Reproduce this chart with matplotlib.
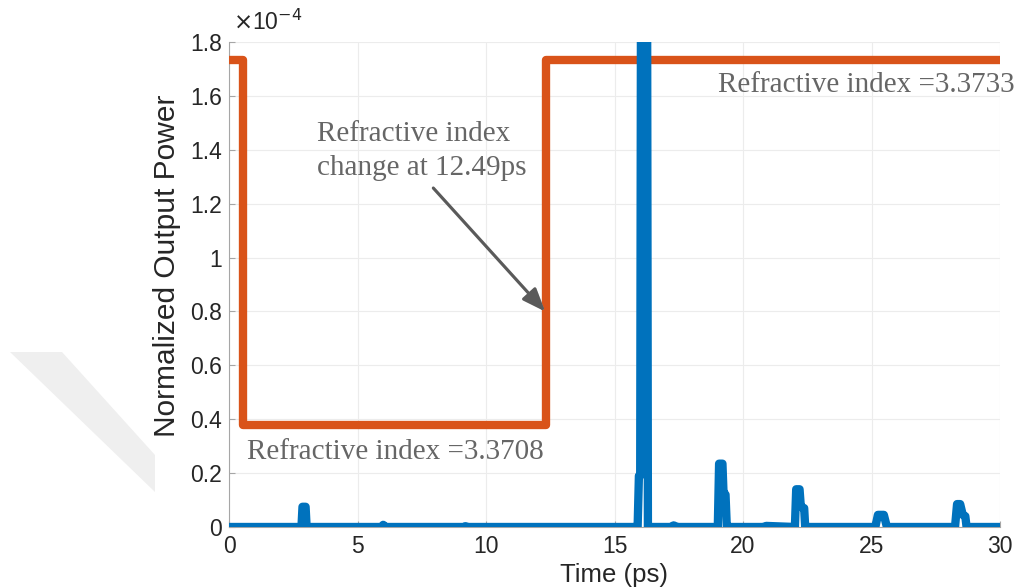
import matplotlib
matplotlib.use("Agg")
import matplotlib.pyplot as plt
from matplotlib.patches import Polygon

# ---- data (power in units of 1e-4) ----
scale_exp = -4
index_time = [0.0, 0.55, 0.55, 12.35, 12.35, 30.0]
index_level = [1.735, 1.735, 0.378, 0.378, 1.735, 1.735]

power_time = [0.0, 2.82, 2.86, 2.98, 3.02, 5.95, 6.0, 6.1, 9.15, 9.2, 9.3,
              15.85, 15.9, 15.95, 16.0, 16.04, 16.1, 16.16, 16.22, 16.26, 16.3,
              17.2, 17.3, 17.45, 19.02, 19.07, 19.2, 19.24, 19.32, 19.37, 19.4,
              20.8, 20.9, 22.02, 22.07, 22.2, 22.25, 22.38, 22.42, 22.46,
              25.15, 25.25, 25.48, 25.6, 28.25, 28.33, 28.45, 28.55, 28.65, 28.7, 30.0]
power_val = [0.0, 0.0, 0.075, 0.075, 0.0, 0.0, 0.008, 0.0, 0.0, 0.003, 0.0,
             0.0, 0.0, 0.19, 0.19, 2.5, 0.6, 2.5, 0.6, 2.5, 0.0,
             0.0, 0.006, 0.0, 0.0, 0.235, 0.235, 0.13, 0.12, 0.0, 0.0,
             0.0, 0.004, 0.0, 0.14, 0.14, 0.075, 0.07, 0.0, 0.0,
             0.0, 0.045, 0.045, 0.0, 0.0, 0.085, 0.085, 0.045, 0.04, 0.0, 0.0]

xticks = [0, 5, 10, 15, 20, 25, 30]
yticks = [0, 0.2, 0.4, 0.6, 0.8, 1.0, 1.2, 1.4, 1.6, 1.8]
ytick_labels = ["0", "0.2", "0.4", "0.6", "0.8", "1", "1.2", "1.4", "1.6", "1.8"]

low_label = "Refractive index =3.3708"
high_label = "Refractive index =3.3733"
change_label = "Refractive index\nchange at 12.49ps"

# ---- figure ----
fig = plt.figure(figsize=(10.16, 5.88), dpi=100)
W, H = 1016, 588

# faint watermark shape
fig.patches.append(Polygon([(10 / W, 1 - 352 / H), (62 / W, 1 - 352 / H),
                            (155 / W, 1 - 455 / H), (155 / W, 1 - 492 / H)],
                           closed=True, transform=fig.transFigure,
                           facecolor="#efefef", edgecolor="none", zorder=0))

ax = fig.add_axes([229 / W, 1 - 527 / H, (1000 - 229) / W, (527 - 42) / H])
ax.set_xlim(0, 30)
ax.set_ylim(0, 1.8)

sans = ["Liberation Sans", "DejaVu Sans"]
serif = ["Liberation Serif", "DejaVu Serif"]
tc = "#262626"

ax.grid(True, color="#ececec", linewidth=0.8)
ax.set_axisbelow(True)
for s in ["top", "right"]:
    ax.spines[s].set_visible(False)
for s in ["left", "bottom"]:
    ax.spines[s].set_color("#a6a6a6")
    ax.spines[s].set_linewidth(0.8)

ax.set_xticks(xticks)
ax.set_yticks(yticks)
ax.set_yticklabels(ytick_labels)
ax.tick_params(direction="in", length=4, color="#a6a6a6", labelsize=16.5,
               labelcolor=tc)
ax.tick_params(axis="x", pad=6)
ax.tick_params(axis="y", pad=5)
for lab in ax.get_xticklabels() + ax.get_yticklabels():
    lab.set_family(sans)

ax.plot(index_time, index_level, color="#d95319", linewidth=6,
        solid_joinstyle="round", solid_capstyle="butt", zorder=3, clip_on=False)
ax.plot(power_time, power_val, color="#0072bd", linewidth=6,
        solid_joinstyle="round", solid_capstyle="round", zorder=4)

ax.set_xlabel("Time (ps)", fontsize=18.5, family=sans, color=tc)
ax.xaxis.set_label_coords((614 - 229) / 771, (527 - 563) / 485)
ax.set_ylabel("Normalized Output Power", fontsize=21.5, family=sans, color=tc)
ax.yaxis.set_label_coords((181 - 229) / 771, (527 - 266) / 485)

fig.text(233 / W, 1 - 22 / H, r"$\times$10$^{%d}$" % scale_exp, fontsize=16.5,
         family=sans, color=tc, va="center", ha="left")

gray = "#666666"
ax.text(30.58, 1.64, high_label, fontsize=21, family=serif, color=gray,
        ha="right", va="center", clip_on=False)
ax.text(0.7, 0.28, low_label, fontsize=21, family=serif, color=gray,
        ha="left", va="center")
ax.text(3.44, 1.395, change_label, fontsize=21, family=serif, color=gray,
        ha="left", va="center", linespacing=1.4)

# arrow with shadow
for off, col, a in [((1.5, -1.5), "#b8b8b8", 0.6), ((0, 0), "#5a5a5a", 1.0)]:
    ax.annotate("", xy=(12.3, 0.80), xytext=(7.95, 1.258),
                arrowprops=dict(arrowstyle="-|>,head_length=1.4,head_width=0.55",
                                color=col, lw=2.2, alpha=a,
                                shrinkA=0, shrinkB=0), zorder=5)

fig.savefig("out.png", dpi=100)
